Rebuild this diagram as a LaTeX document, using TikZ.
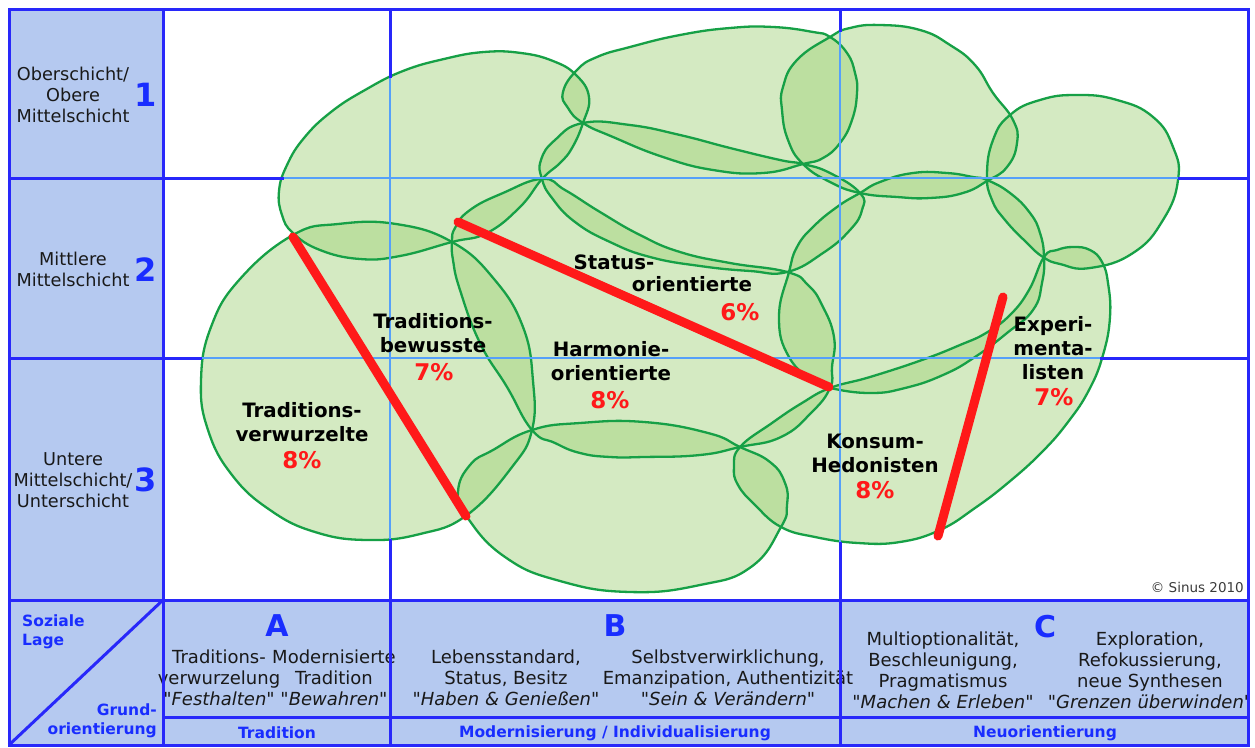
\documentclass[tikz,border=0pt]{standalone}
\usepackage{fontspec}
\setmainfont{DejaVu Sans}
\newfontfamily\qfont{DejaVu Sans}
\definecolor{panel}{RGB}{181,201,240}
\definecolor{dkblue}{RGB}{40,40,250}
\definecolor{ltblue}{RGB}{85,160,250}
\definecolor{blobgreen}{RGB}{22,160,70}
\definecolor{blobfillc}{RGB}{160,210,120}
\definecolor{myred}{RGB}{255,25,25}
\definecolor{txtblue}{RGB}{25,45,255}
\definecolor{txtdark}{RGB}{25,25,25}
\newcommand\dq{{\qfont\char34}}
\newcommand\BlA{plot[smooth cycle,tension=0.75] coordinates {(293,233) (282,215) (279,191) (287,165) (304,138) (331,112) (365,90) (403,71) (444,59) (484,52) (521,53) (553,61) (576,75) (589,97) (583,123) (572,148) (560,163) (542,179) (520,207) (487,233) (452,242) (400,256) (360,259) (320,250)}}
\newcommand\BlL{plot[smooth cycle,tension=0.8] coordinates {(563,92) (577,70) (597,57) (630,47) (680,35) (730,28) (773,27) (813,32) (830,37) (847,53) (855,73) (857,93) (852,120) (840,143) (823,158) (803,164) (763,173) (713,170) (663,157) (613,137) (583,123) (568,108)}}
\newcommand\BlP{plot[smooth cycle,tension=0.8] coordinates {(830,37) (850,28) (880,25) (920,30) (950,45) (975,65) (993,93) (1013,120) (1017,143) (1007,167) (987,181) (963,193) (930,198) (897,197) (860,193) (830,182) (803,164) (788,140) (782,110) (783,87) (797,60)}}
\newcommand\BlE{plot[smooth cycle,tension=0.8] coordinates {(1010,115) (1040,100) (1077,95) (1117,100) (1153,117) (1173,147) (1178,180) (1163,220) (1133,253) (1090,268) (1060,264) (1043,257) (1027,243) (1005,220) (992,200) (987,175) (993,140)}}
\newcommand\BlM{plot[smooth cycle,tension=0.8] coordinates {(860,193) (880,182) (913,173) (947,173) (973,177) (987,180) (1010,193) (1030,213) (1040,233) (1044,257) (1042,283) (1033,310) (1007,333) (975,357) (943,375) (905,388) (870,393) (830,388) (815,382) (789,357) (779,317) (789,272) (797,247) (813,227) (837,207)}}
\newcommand\BlK{plot[smooth cycle,tension=0.75] coordinates {(740,447) (772,423) (802,403) (830,388) (870,377) (922,360) (960,345) (986,333) (1010,315) (1029,290) (1044,257) (1057,250) (1073,247) (1090,250) (1102,262) (1108,283) (1110,317) (1103,355) (1089,390) (1068,422) (1042,452) (1009,482) (975,508) (940,530) (900,542) (858,543) (815,537) (781,527) (755,505) (738,485) (734,467)}}
\newcommand\BlB{plot[smooth cycle,tension=0.8] coordinates {(452,242) (455,228) (470,210) (503,193) (542,179) (565,190) (600,212) (640,235) (680,252) (730,263) (787,272) (808,285) (822,305) (834,337) (832,367) (830,388) (811,413) (781,437) (740,447) (700,455) (644,457) (610,457) (580,453) (555,443) (532,430) (507,387) (480,343) (460,290) (453,260)}}
\newcommand\BlT{plot[smooth cycle,tension=0.75] coordinates {(293,235) (338,224) (396,224) (452,242) (494,279) (523,327) (533,381) (532,430) (512,467) (467,515) (420,534) (367,540) (315,532) (270,510) (232,475) (208,430) (201,381) (211,327) (240,279)}}
\newcommand\BlR{plot[smooth cycle,tension=0.8] coordinates {(532,430) (580,423) (644,422) (708,433) (740,447) (770,462) (785,483) (787,505) (781,527) (751,567) (700,585) (630,592) (560,581) (505,557) (467,517) (458,492) (470,465) (493,450)}}
\newcommand\BlS{plot[smooth cycle,tension=0.8] coordinates {(542,179) (541,160) (555,140) (583,123) (630,125) (680,135) (730,148) (780,160) (803,164) (830,173) (860,193) (862,210) (850,230) (823,253) (787,272) (750,271) (700,266) (650,257) (610,242) (575,222) (552,198)}}
\begin{document}
\begin{tikzpicture}[x=1pt,y=-1pt,
  blobfill/.style={fill=blobfillc,fill opacity=0.45},
  blobline/.style={draw=blobgreen,line width=2.3pt},
  gridthick/.style={draw=dkblue,line width=3pt},
  gridthin/.style={draw=ltblue,line width=1.8pt},
  divider/.style={draw=myred,line width=9pt,line cap=round},
  rowlbl/.style={font=\fontsize{17.7}{21}\selectfont,text=txtdark,align=center,inner sep=0pt},
  numlbl/.style={font=\bfseries\fontsize{32}{32}\selectfont,text=txtblue,inner sep=0pt},
  letlbl/.style={font=\bfseries\fontsize{30}{30}\selectfont,text=txtblue,inner sep=0pt},
  milieu/.style={font=\bfseries\fontsize{19.8}{24}\selectfont,text=black,align=center,inner sep=0pt},
  pct/.style={font=\bfseries\fontsize{23}{23}\selectfont,text=myred,inner sep=0pt},
  celltxt/.style={font=\fontsize{18}{21}\selectfont,text=txtdark,align=center,inner sep=0pt},
  bluelbl/.style={font=\bfseries\fontsize{15.5}{19}\selectfont,text=txtblue,inner sep=0pt},
  copyr/.style={font=\fontsize{13.5}{15}\selectfont,text=txtdark!85,inner sep=0pt}]
\useasboundingbox (0,0) rectangle (1255,747);
\fill[white] (0,0) rectangle (1255,747);
\fill[panel] (9,9) rectangle (163,745);
\fill[panel] (163,600) rectangle (1248,745);
% blobs
\fill[blobfill] \BlA; \fill[blobfill] \BlL; \fill[blobfill] \BlP; \fill[blobfill] \BlE;
\fill[blobfill] \BlM; \fill[blobfill] \BlK; \fill[blobfill] \BlB; \fill[blobfill] \BlT;
\fill[blobfill] \BlR; \fill[blobfill] \BlS;
\draw[blobline] \BlA; \draw[blobline] \BlL; \draw[blobline] \BlP; \draw[blobline] \BlE;
\draw[blobline] \BlM; \draw[blobline] \BlK; \draw[blobline] \BlB; \draw[blobline] \BlT;
\draw[blobline] \BlR; \draw[blobline] \BlS;
% bottom cell texts
\node[letlbl] (lA) at (277,626) {A};
\node[letlbl] (lB) at (615,626) {B};
\node[letlbl] (lC) at (1045,627) {C};
\node[celltxt] (a1) at (219,678) {Traditions-\\verwurzelung\\\textit{\dq Festhalten\dq}};
\node[celltxt] (a2) at (334,678) {Modernisierte\\Tradition\\\textit{\dq Bewahren\dq}};
\node[celltxt] (b1) at (506,678) {Lebensstandard,\\Status, Besitz\\\textit{\dq Haben \& Genießen\dq}};
\node[celltxt] (b2) at (728,678) {Selbstverwirklichung,\\Emanzipation, Authentizität\\\textit{\dq Sein \& Verändern\dq}};
\node[celltxt] (c1) at (943,670) {Multioptionalität,\\Beschleunigung,\\Pragmatismus\\\textit{\dq Machen \& Erleben\dq}};
\begin{scope}
\clip (840,600) rectangle (1248,717);
\node[celltxt] (c2) at (1150,670) {Exploration,\\Refokussierung,\\neue Synthesen\\\textit{\dq Grenzen überwinden\dq}};
\end{scope}
\node[bluelbl,align=left,anchor=west] (soz) at (22,632) {Soziale\\Lage};
\node[bluelbl,align=right,anchor=east] (grund) at (157,721) {Grund-\\orientierung};
\node[bluelbl] (t1) at (277,733) {Tradition};
\node[bluelbl] (t2) at (615,733) {Modernisierung / Individualisierung};
\node[bluelbl] (t3) at (1045,733) {Neuorientierung};
% thin inner lines over blobs
\draw[gridthin] (284,178) -- (1178,178);
\draw[gridthin] (202,358) -- (1100,358);
\draw[gridthin] (390,78) -- (390,539);
\draw[gridthin] (840,32) -- (840,542);
% heavy grid
\draw[gridthick] (9,9) rectangle (1248,745);
\draw[gridthick] (163,9) -- (163,745);
\draw[gridthick] (9,600) -- (1248,600);
\draw[gridthick] (163,717) -- (1248,717);
\draw[gridthick] (390,600) -- (390,745);
\draw[gridthick] (840,600) -- (840,745);
\draw[gridthick] (9,178) -- (284,178);
\draw[gridthick] (1178,178) -- (1248,178);
\draw[gridthick] (9,358) -- (202,358);
\draw[gridthick] (1100,358) -- (1248,358);
\draw[gridthick] (390,9) -- (390,78);
\draw[gridthick] (390,539) -- (390,600);
\draw[gridthick] (840,9) -- (840,32);
\draw[gridthick] (840,542) -- (840,600);
\draw[gridthick] (163,600) -- (9,745);
% red dividers
\coordinate (r1a) at (293,237); \coordinate (r1b) at (466,516);
\coordinate (r2a) at (458,222); \coordinate (r2b) at (829,387);
\coordinate (r3a) at (1003,297); \coordinate (r3b) at (938,536);
\draw[divider] (r1a) -- (r1b);
\draw[divider] (r2a) -- (r2b);
\draw[divider] (r3a) -- (r3b);
% left column
\node[rowlbl] (row1) at (73,95) {Oberschicht/\\Obere\\Mittelschicht};
\node[numlbl] (n1) at (146,95) {1};
\node[rowlbl] (row2) at (73,269) {Mittlere\\Mittelschicht};
\node[numlbl] (n2) at (146,270) {2};
\node[rowlbl] (row3) at (73,480) {Untere\\Mittelschicht/\\Unterschicht};
\node[numlbl] (n3) at (146,480) {3};
% milieu labels
\node[milieu] (tv) at (302,422) {Traditions-\\verwurzelte};
\node[pct] (tvp) at (302,460) {8\%};
\node[milieu] (tb) at (433,333) {Traditions-\\bewusste};
\node[pct] (tbp) at (434,372) {7\%};
\node[milieu] (st1) at (614,262) {Status-};
\node[milieu] (st2) at (692,284) {orientierte};
\node[pct] (stp) at (740,312) {6\%};
\node[milieu] (ha) at (611,361) {Harmonie-\\orientierte};
\node[pct] (hap) at (610,400) {8\%};
\node[milieu] (kh) at (875,453) {Konsum-\\Hedonisten};
\node[pct] (khp) at (875,490) {8\%};
\node[milieu] (ex) at (1053,348) {Experi-\\menta-\\listen};
\node[pct] (exp) at (1054,397) {7\%};
\node[copyr,anchor=east] (cp) at (1244,587) {© Sinus 2010};
\end{tikzpicture}
\end{document}
